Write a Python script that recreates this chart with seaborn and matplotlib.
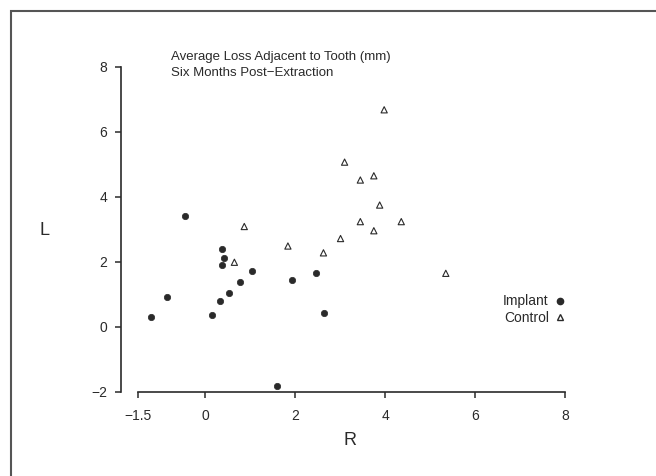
import pandas as pd
import matplotlib.pyplot as plt
import seaborn as sns
from matplotlib.lines import Line2D

# Implant group (filled circles)
implant_r = [-0.44, 0.38, 0.43, 0.38, 1.05, 0.78, 1.92, 2.47, 0.53, -0.84, 0.33, -1.21, 0.15, 2.65, 1.60]
implant_l = [3.40, 2.39, 2.11, 1.92, 1.71, 1.38, 1.45, 1.66, 1.06, 0.91, 0.81, 0.32, 0.38, 0.42, -1.83]

# Control group (open triangles)
control_r = [3.98, 3.10, 3.45, 3.75, 3.88, 3.45, 3.75, 3.01, 2.63, 1.84, 0.87, 0.65, 4.36, 5.35]
control_l = [6.68, 5.07, 4.52, 4.65, 3.75, 3.24, 2.96, 2.72, 2.28, 2.49, 3.09, 1.99, 3.24, 1.65]

x_ticks = [-1.5, 0, 2, 4, 6, 8]
y_ticks = [-2, 0, 2, 4, 6, 8]


def make_plot():
    sns.set_style("ticks")
    plt.rcParams['font.family'] = ['Liberation Sans', 'DejaVu Sans']
    ink = "#2a2a2a"

    df = pd.concat([
        pd.DataFrame({"R": implant_r, "L": implant_l, "Group": "Implant"}),
        pd.DataFrame({"R": control_r, "L": control_l, "Group": "Control"}),
    ], ignore_index=True)

    fig = plt.figure(figsize=(6.56, 4.76), dpi=100)
    fig.patch.set_facecolor("white")
    ax = fig.add_axes([0.1845, 0.1765, 0.6905, 0.683])

    sns.scatterplot(data=df[df.Group == "Implant"], x="R", y="L", ax=ax,
                    marker="o", s=21, color=ink, edgecolor=ink, linewidth=0.5, legend=False)
    sns.scatterplot(data=df[df.Group == "Control"], x="R", y="L", ax=ax,
                    marker="^", s=20, facecolor="none", edgecolor=ink, linewidth=0.8, legend=False)

    ax.set_xlim(-1.87, 8.2)
    ax.set_ylim(-2, 8)
    ax.set_xticks(x_ticks)
    ax.set_xticklabels(["\u22121.5", "0", "2", "4", "6", "8"])
    ax.set_yticks(y_ticks)
    ax.set_yticklabels(["\u22122", "0", "2", "4", "6", "8"])
    ax.tick_params(axis="x", length=4, width=1.1, pad=8, labelsize=10, colors=ink)
    ax.tick_params(axis="y", length=4, width=1.1, pad=6, labelsize=10, colors=ink)
    sns.despine(ax=ax, trim=True)
    for side in ["left", "bottom"]:
        ax.spines[side].set_linewidth(1.2)
        ax.spines[side].set_color(ink)

    ax.set_xlabel("R", fontsize=13, color=ink, va="center")
    ax.set_ylabel("L", fontsize=13, color=ink, rotation=0, va="center", ha="center")
    ax.xaxis.set_label_coords(0.506, -0.148)
    ax.yaxis.set_label_coords(-0.168, 0.498)

    fig.text(171 / 656, 1 - 57 / 476, "Average Loss Adjacent to Tooth (mm)",
             fontsize=9.5, color=ink, va="center", ha="left")
    fig.text(171 / 656, 1 - 73 / 476, "Six Months Post\u2212Extraction",
             fontsize=9.5, color=ink, va="center", ha="left")

    handles = [
        Line2D([], [], marker="o", linestyle="", color=ink, markersize=4.5),
        Line2D([], [], marker="^", linestyle="", markerfacecolor="none",
               markeredgecolor=ink, markersize=4.5),
    ]
    fig.legend(handles, ["Implant", "Control"], loc="upper right",
               bbox_to_anchor=(578 / 656, 1 - 282 / 476), frameon=False,
               markerfirst=False, handlelength=0.8, handletextpad=0.4,
               labelspacing=0.2, fontsize=10, labelcolor=ink)

    # outer frame of the scanned figure
    fig.add_artist(plt.Rectangle((11 / 656, -0.05), 1.2, 1 - 11 / 476 + 0.05,
                                 transform=fig.transFigure, fill=False,
                                 edgecolor="#555555", linewidth=1.5))

    fig.savefig("out.png", dpi=100)
    plt.close(fig)


if __name__ == "__main__":
    make_plot()
